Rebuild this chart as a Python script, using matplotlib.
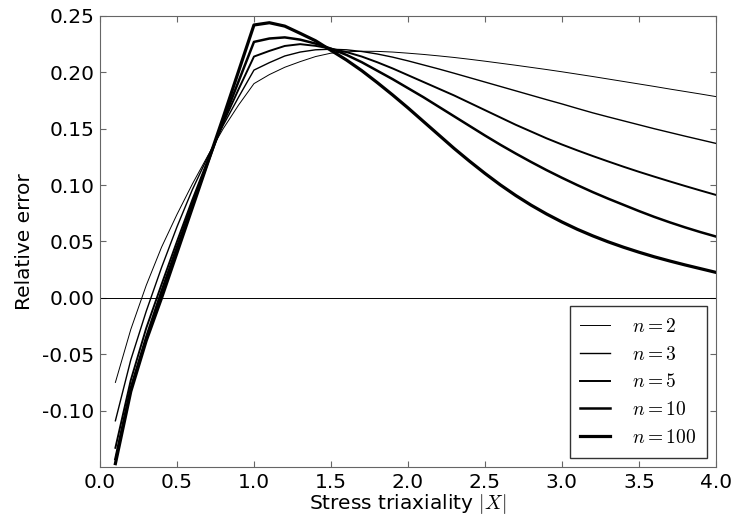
import numpy as np
import matplotlib
matplotlib.use('Agg')
from matplotlib import pyplot as plt

plt.rcParams['mathtext.fontset'] = 'cm'
plt.rcParams['font.family'] = 'DejaVu Sans'

# stress triaxiality samples
triax = [0.1, 0.2, 0.3, 0.4, 0.5, 0.6, 0.7, 0.8, 0.9, 1.0,
         1.1, 1.2, 1.3, 1.4, 1.5, 1.6, 1.7, 1.8, 1.9, 2.0,
         2.1, 2.2, 2.3, 2.4, 2.5, 2.6, 2.7, 2.8, 2.9, 3.0,
         3.1, 3.2, 3.3, 3.4, 3.5, 3.6, 3.7, 3.8, 3.9, 4.0]

#relative error for each exponent n
err_n2 = [-0.075, -0.028, 0.011, 0.045, 0.074, 0.101, 0.126, 0.150, 0.171, 0.190,
          0.198, 0.2045, 0.2095, 0.214, 0.217, 0.2182, 0.2187, 0.2186, 0.2180, 0.2170,
          0.2159, 0.2146, 0.2132, 0.2116, 0.2099, 0.2081, 0.2063, 0.2044, 0.2025, 0.2005,
          0.1984, 0.1963, 0.1941, 0.1919, 0.1897, 0.1875, 0.1852, 0.1830, 0.1808, 0.1785]
err_n3 = [-0.109, -0.055, -0.012, 0.027, 0.063, 0.096, 0.125, 0.153, 0.178, 0.202,
          0.2086, 0.2145, 0.218, 0.220, 0.2205, 0.2200, 0.2185, 0.2163, 0.2135, 0.2102,
          0.2066, 0.2030, 0.1992, 0.1953, 0.1914, 0.1875, 0.1836, 0.1797, 0.1758, 0.1720,
          0.1680, 0.1641, 0.1605, 0.1570, 0.1535, 0.1500, 0.1467, 0.1434, 0.1402, 0.1370]
err_n5 = [-0.133, -0.073, -0.027, 0.012, 0.050, 0.087, 0.122, 0.155, 0.185, 0.214,
          0.219, 0.2234, 0.225, 0.2235, 0.221, 0.218, 0.214, 0.209, 0.2035, 0.1975,
          0.1915, 0.1855, 0.1795, 0.173, 0.1665, 0.160, 0.1535, 0.1475, 0.1415, 0.136,
          0.1308, 0.1258, 0.121, 0.1163, 0.1118, 0.1075, 0.1033, 0.0992, 0.0952, 0.0913]
err_n10 = [-0.143, -0.080, -0.035, 0.006, 0.045, 0.083, 0.120, 0.157, 0.192, 0.227,
           0.230, 0.231, 0.229, 0.2255, 0.221, 0.2155, 0.209, 0.2015, 0.194, 0.186,
           0.178, 0.1695, 0.161, 0.1525, 0.144, 0.1358, 0.128, 0.1205, 0.1133, 0.1065,
           0.100, 0.0938, 0.088, 0.0825, 0.077, 0.0718, 0.067, 0.0625, 0.0583, 0.0544]
err_n100 = [-0.147, -0.083, -0.038, 0.000, 0.040, 0.080, 0.120, 0.160, 0.201, 0.242,
            0.244, 0.241, 0.2346, 0.228, 0.2195, 0.211, 0.2015, 0.191, 0.180, 0.1685,
            0.1565, 0.1445, 0.1325, 0.1212, 0.1104, 0.1002, 0.0908, 0.0822, 0.0744, 0.0673,
            0.0608, 0.0550, 0.0497, 0.0449, 0.0405, 0.0364, 0.0327, 0.0292, 0.0259, 0.0226]

series = [err_n2, err_n3, err_n5, err_n10, err_n100]
labels = [r'$n=2$', r'$n=3$', r'$n=5$', r'$n=10$', r'$n=100$']
widths = [0.7, 1.0, 1.4, 1.8, 2.3]

fig = plt.figure(figsize=(7.32, 5.15), dpi=100)
ax = fig.add_axes([0.1366, 0.0932, 0.8414, 0.8758])

for err, lab, lw in zip(series, labels, widths):
    ax.plot(triax, err, color='black', lw=lw, label=lab)

ax.axhline(0.0, color='black', lw=0.7)

ax.set_xlim(0.0, 4.0)
ax.set_ylim(-0.15, 0.25)
ax.set_xticks(np.arange(0.0, 4.01, 0.5))
ax.set_yticks(np.arange(-0.10, 0.251, 0.05))
ax.set_xticklabels(['%.1f' % v for v in np.arange(0.0, 4.01, 0.5)])
ax.set_yticklabels(['%.2f' % v for v in np.arange(-0.10, 0.251, 0.05)])
ax.tick_params(direction='in', top=True, right=True, labelsize=14.5, length=4,
               color='#666666', pad=4)
for sp in ax.spines.values():
    sp.set_color('#666666')

ax.set_xlabel(r'Stress triaxiality $|X|$', fontsize=14.5, labelpad=0)
ax.set_ylabel('Relative error', fontsize=14.5, labelpad=6)

leg = ax.legend(loc='lower right', fontsize=14, fancybox=False, framealpha=1.0,
                handlelength=1.55, borderpad=0.55, labelspacing=0.45, handletextpad=1.1,
                borderaxespad=0.48)
leg.get_frame().set_edgecolor('#333333')
leg.get_frame().set_linewidth(1.0)

fig.savefig('out.png', dpi=100)
